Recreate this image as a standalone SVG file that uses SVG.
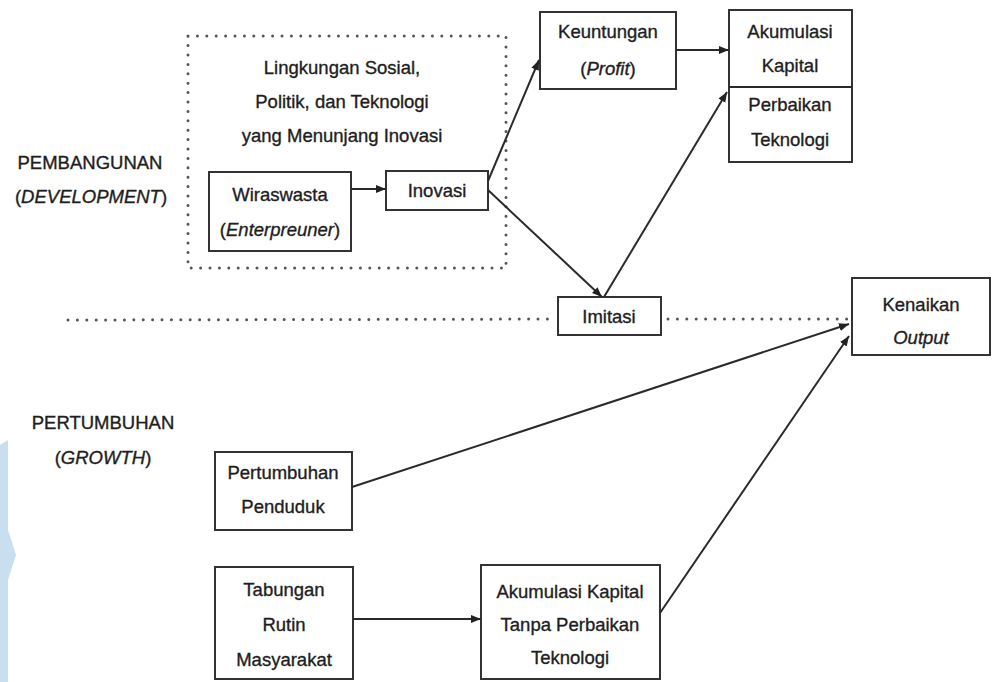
<svg xmlns="http://www.w3.org/2000/svg" width="997" height="682" viewBox="0 0 997 682">
<style>
.box{fill:#fff;stroke:#333;stroke-width:2}
.t{font-family:"Liberation Sans",Arial,sans-serif;font-size:18.5px;fill:#1e1e1e;stroke:#1e1e1e;stroke-width:0.35;text-anchor:middle}
.i{font-style:italic}
.c{stroke:#2a2a2a;stroke-width:2;fill:none}
.dot{stroke:#555;stroke-width:3;stroke-linecap:round;stroke-dasharray:0 9.4;fill:none}
</style>
<defs>
<marker id="ah" markerUnits="userSpaceOnUse" markerWidth="11" markerHeight="9" refX="10" refY="4" orient="auto">
<path d="M0,0 L10,4 L0,8 z" fill="#222"/>
</marker>
</defs>
<rect width="997" height="682" fill="#fff"/>
<g id="watermark" fill="#c9deee">
<path d="M0,445 L8,440 L8,530 L16,555 L8,580 L8,682 L0,682 z"/>
</g>
<g id="labels">
<text class="t" x="90" y="169">PEMBANGUNAN</text>
<text class="t" x="91" y="203">(<tspan class="i">DEVELOPMENT</tspan>)</text>
<text class="t" x="103" y="429">PERTUMBUHAN</text>
<text class="t" x="103" y="464">(<tspan class="i">GROWTH</tspan>)</text>
</g>
<g id="environment">
<rect x="188" y="36" width="318" height="232" class="dot"/>
<text class="t" x="342" y="74">Lingkungan Sosial,</text>
<text class="t" x="342" y="108">Politik, dan Teknologi</text>
<text class="t" x="342" y="142">yang Menunjang Inovasi</text>
</g>
<g id="separator">
<line x1="68" y1="320" x2="556" y2="319" class="dot"/>
<line x1="668" y1="319" x2="852" y2="319" class="dot"/>
</g>
<g id="wiraswasta">
<rect x="209" y="172" width="142" height="79" class="box"/>
<text class="t" x="280" y="201">Wiraswasta</text>
<text class="t" x="280" y="236">(<tspan class="i">Enterpreuner</tspan>)</text>
</g>
<g id="inovasi">
<rect x="386" y="171" width="102" height="39" class="box"/>
<text class="t" x="437" y="197">Inovasi</text>
</g>
<g id="keuntungan">
<rect x="540" y="12" width="136" height="77" class="box"/>
<text class="t" x="608" y="38">Keuntungan</text>
<text class="t" x="608" y="75">(<tspan class="i">Profit</tspan>)</text>
</g>
<g id="akumulasi">
<rect x="729" y="10" width="123" height="152" class="box"/>
<line x1="729" y1="87" x2="852" y2="87" class="c"/>
<text class="t" x="790" y="38">Akumulasi</text>
<text class="t" x="790" y="72">Kapital</text>
<text class="t" x="790" y="111">Perbaikan</text>
<text class="t" x="790" y="146">Teknologi</text>
</g>
<g id="imitasi">
<rect x="558" y="297" width="103" height="38" class="box"/>
<text class="t" x="609" y="323">Imitasi</text>
</g>
<g id="kenaikan">
<rect x="852" y="278" width="138" height="77" class="box"/>
<text class="t" x="921" y="311">Kenaikan</text>
<text class="t i" x="921" y="344">Output</text>
</g>
<g id="pertumbuhan-penduduk">
<rect x="215" y="452" width="137" height="78" class="box"/>
<text class="t" x="283" y="479">Pertumbuhan</text>
<text class="t" x="283" y="513">Penduduk</text>
</g>
<g id="tabungan">
<rect x="215" y="567" width="138" height="112" class="box"/>
<text class="t" x="284" y="596">Tabungan</text>
<text class="t" x="284" y="631">Rutin</text>
<text class="t" x="284" y="666">Masyarakat</text>
</g>
<g id="akumulasi-tanpa">
<rect x="481" y="565" width="179" height="114" class="box"/>
<text class="t" x="570" y="598">Akumulasi Kapital</text>
<text class="t" x="570" y="631">Tanpa Perbaikan</text>
<text class="t" x="570" y="664">Teknologi</text>
</g>
<g id="connectors">
<line x1="351" y1="189" x2="386" y2="189" class="c" marker-end="url(#ah)"/>
<line x1="488" y1="181" x2="539" y2="60" class="c" marker-end="url(#ah)"/>
<line x1="676" y1="50" x2="729" y2="50" class="c" marker-end="url(#ah)"/>
<line x1="488" y1="190" x2="602" y2="297" class="c" marker-end="url(#ah)"/>
<line x1="604" y1="297" x2="727" y2="92" class="c" marker-end="url(#ah)"/>
<line x1="352" y1="487" x2="849" y2="324" class="c" marker-end="url(#ah)"/>
<line x1="660" y1="613" x2="849" y2="336" class="c" marker-end="url(#ah)"/>
<line x1="353" y1="619" x2="481" y2="619" class="c" marker-end="url(#ah)"/>
</g>
</svg>
